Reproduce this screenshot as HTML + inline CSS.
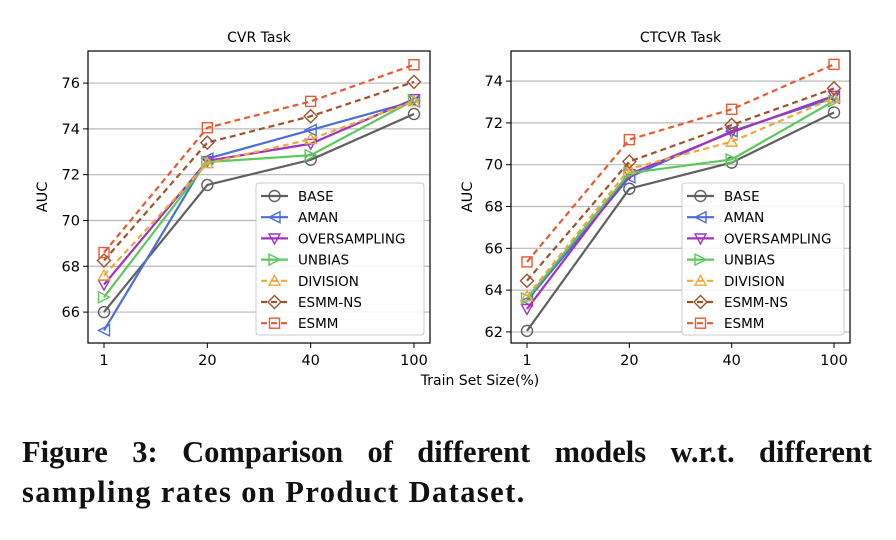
<!DOCTYPE html>
<html><head><meta charset="utf-8"><style>
body{margin:0;background:#fff;width:896px;height:540px;overflow:hidden;position:relative}
svg{display:block}
.cap{position:absolute;left:22px;width:850px;font-family:"Liberation Serif",serif;font-weight:bold;font-size:30.5px;line-height:40px;color:#111;white-space:nowrap}
#l1{top:432px;text-align:justify;text-align-last:justify}
#l2{top:472px;letter-spacing:1.4px}
</style></head><body>
<svg id="chart" width="896" height="420" xmlns="http://www.w3.org/2000/svg" font-family="DejaVu Sans, Liberation Sans, sans-serif"></svg>
<div class="cap" id="l1">Figure 3: Comparison of different models w.r.t. different</div>
<div class="cap" id="l2">sampling rates on Product Dataset.</div>
<script>
const categories = ["1","20","40","100"];
const seriesNames = ["BASE","AMAN","OVERSAMPLING","UNBIAS","DIVISION","ESMM-NS","ESMM"];
const cvrBase = [66.0, 71.55, 72.65, 74.65];
const cvrAman = [65.2, 72.7, 73.95, 75.2];
const cvrOver = [67.2, 72.6, 73.35, 75.3];
const cvrUnbias = [66.65, 72.55, 72.85, 75.25];
const cvrDivision = [67.6, 72.5, 73.55, 75.2];
const cvrEsmmNs = [68.25, 73.4, 74.55, 76.05];
const cvrEsmm = [68.6, 74.05, 75.2, 76.8];
const ctBase = [62.05, 68.85, 70.1, 72.5];
const ctAman = [63.5, 69.4, 71.6, 73.2];
const ctOver = [63.1, 69.55, 71.55, 73.3];
const ctUnbias = [63.6, 69.6, 70.25, 73.05];
const ctDivision = [63.7, 69.8, 71.1, 73.2];
const ctEsmmNs = [64.45, 70.15, 71.9, 73.65];
const ctEsmm = [65.35, 71.2, 72.65, 74.8];
const cvrTicks = [66,68,70,72,74,76];
const ctTicks = [62,64,66,68,70,72,74];

const styles = [
 {c:"#606060",m:"circle",d:""},{c:"#4a6fd8",m:"left",d:""},{c:"#a033c0",m:"down",d:""},
 {c:"#5cc95c",m:"right",d:""},{c:"#f0a83a",m:"up",d:"6,4"},{c:"#a0522d",m:"diamond",d:"6,4"},{c:"#e85a32",m:"square",d:"6,4"}];
const svg=document.getElementById('chart');
const NS="http://www.w3.org/2000/svg";
function mk(t,a,p){const e=document.createElementNS(NS,t);for(const k in a)e.setAttribute(k,a[k]);(p||svg).appendChild(e);return e;}
function marker(g,type,x,y,c){
  const r=5.5;let e;
  if(type==="circle")e=mk("circle",{cx:x,cy:y,r:r},g);
  else if(type==="square")e=mk("rect",{x:x-r+0.5,y:y-r+0.5,width:2*r-1,height:2*r-1},g);
  else{let pts;
    if(type==="diamond")pts=[[x,y-r-1],[x+r+1,y],[x,y+r+1],[x-r-1,y]];
    if(type==="left")pts=[[x-r,y],[x+r,y-r],[x+r,y+r]];
    if(type==="right")pts=[[x+r,y],[x-r,y-r],[x-r,y+r]];
    if(type==="up")pts=[[x,y-r],[x+r,y+r*0.8],[x-r,y+r*0.8]];
    if(type==="down")pts=[[x,y+r],[x+r,y-r*0.8],[x-r,y-r*0.8]];
    e=mk("polygon",{points:pts.map(p=>p.join(",")).join(" ")},g);}
  e.setAttribute("fill","none");e.setAttribute("stroke",c);e.setAttribute("stroke-width","1.4");
  
  
}
function panel(opt){
  const {x0,x1,y0,y1,vmin,vmax,ticks,data,title,name,lg}=opt;
  const g=mk("g",{});
  
  
  const xs=[x0+16,x0+16+(x1-x0-32)/3,x0+16+2*(x1-x0-32)/3,x1-16];
  const X=i=>xs[i];
  const Y=v=>y1-(v-vmin)/(vmax-vmin)*(y1-y0);
  ticks.forEach(t=>{
    const gl=mk("line",{x1:x0,x2:x1,y1:Y(t),y2:Y(t),stroke:"#b8b8b8","stroke-width":1.2},g);
    
    mk("line",{x1:x0-5,x2:x0,y1:Y(t),y2:Y(t),stroke:"#000"},g);
    const tx=mk("text",{x:x0-8,y:Y(t)+5,"text-anchor":"end","font-size":14.5},g);tx.textContent=t;
    
  });
  categories.forEach((c,i)=>{
    mk("line",{x1:X(i),x2:X(i),y1:y1,y2:y1+5,stroke:"#000"},g);
    const tx=mk("text",{x:X(i),y:y1+22,"text-anchor":"middle","font-size":14.5},g);tx.textContent=c;
    
  });
  data.forEach((arr,s)=>{
    const st=styles[s];
    const pl=mk("polyline",{points:arr.map((v,i)=>X(i)+","+Y(v)).join(" "),fill:"none",stroke:st.c,"stroke-width":2.2},g);
    if(st.d)pl.setAttribute("stroke-dasharray",st.d);
    
    
    arr.forEach((v,i)=>marker(g,st.m,X(i),Y(v),st.c));
  });
  mk("rect",{x:x0,y:y0,width:x1-x0,height:y1-y0,fill:"none",stroke:"#000","stroke-width":1.2},g);
  const t=mk("text",{x:(x0+x1)/2,y:y0-9,"text-anchor":"middle","font-size":14},g);t.textContent=title;
  
  const yl=mk("text",{x:0,y:0,"text-anchor":"middle","font-size":14.5,transform:`translate(${opt.ylx},${(y0+y1)/2}) rotate(-90)`},g);yl.textContent="AUC";
  
  const lgG=mk("g",{},g);
  
  mk("rect",{x:lg,y:183,width:x1-6-lg,height:152,rx:3,fill:"rgba(255,255,255,0.85)",stroke:"#ccc"},lgG);
  seriesNames.forEach((n,s)=>{
    const st=styles[s];const yy=196+s*21.2;
    const l=mk("line",{x1:lg+5,x2:lg+32,y1:yy,y2:yy,stroke:st.c,"stroke-width":2.2},lgG);
    if(st.d)l.setAttribute("stroke-dasharray",st.d);
    marker(lgG,st.m,lg+18.5,yy,st.c);
    const tx=mk("text",{x:lg+42,y:yy+5,"font-size":13.5},lgG);tx.textContent=n;
    
  });
}
panel({x0:88,x1:430,y0:51,y1:343,vmin:64.65,vmax:77.4,ticks:cvrTicks,title:"CVR Task",name:"cvr-chart",ylx:47,lg:256,
  data:[cvrBase,cvrAman,cvrOver,cvrUnbias,cvrDivision,cvrEsmmNs,cvrEsmm]});
panel({x0:511,x1:850,y0:51,y1:343,vmin:61.47,vmax:75.44,ticks:ctTicks,title:"CTCVR Task",name:"ctcvr-chart",ylx:472,lg:682,
  data:[ctBase,ctAman,ctOver,ctUnbias,ctDivision,ctEsmmNs,ctEsmm]});
const xl=mk("text",{x:480,y:385,"text-anchor":"middle","font-size":14});xl.textContent="Train Set Size(%)";


</script>
</body></html>
